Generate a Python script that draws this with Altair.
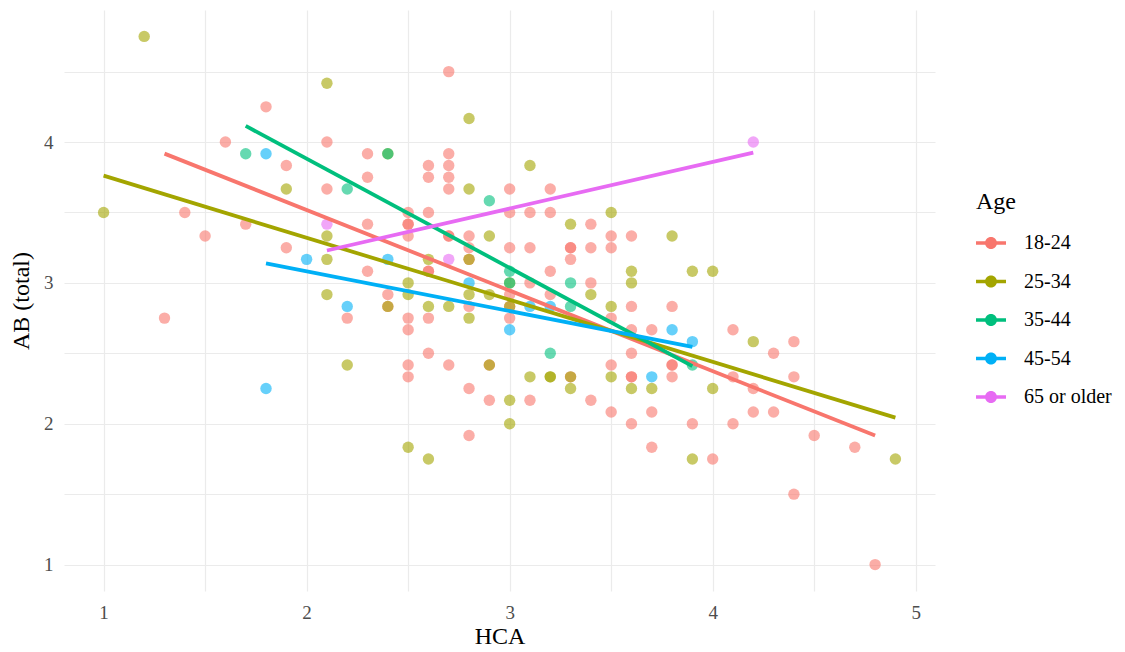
import altair as alt
import pandas as pd

# 18-24
hca_1824 = [1.3, 1.4, 1.5, 1.6, 1.7, 1.8, 1.9, 1.9, 2.1, 2.1, 2.2, 2.3, 2.3, 2.3, 2.3, 2.4, 2.4,
            2.5, 2.5, 2.5, 2.5, 2.5, 2.5, 2.5, 2.5, 2.6, 2.6, 2.6, 2.6, 2.6, 2.6, 2.6,
            2.7, 2.7, 2.7, 2.7, 2.7, 2.7, 2.7, 2.7, 2.8, 2.8, 2.8, 2.8, 2.8, 2.8, 2.9, 2.9,
            3.0, 3.0, 3.0, 3.0, 3.0, 3.0, 3.1, 3.1, 3.1, 3.1, 3.2, 3.2, 3.2, 3.2,
            3.3, 3.3, 3.3, 3.3, 3.4, 3.4, 3.4, 3.4, 3.5, 3.5, 3.5, 3.5, 3.5,
            3.6, 3.6, 3.6, 3.6, 3.6, 3.6, 3.6, 3.7, 3.7, 3.7, 3.8, 3.8, 3.8, 3.8,
            3.9, 4.0, 4.1, 4.1, 4.1, 4.2, 4.2, 4.3, 4.3, 4.4, 4.4, 4.4, 4.5, 4.7, 4.8]
ab_1824 = [2.75, 3.5, 3.333, 4.0, 3.417, 4.25, 3.833, 3.25, 4.0, 3.667, 2.75, 3.917, 3.75, 3.417, 3.083, 2.917, 2.833,
           3.5, 3.417, 3.417, 3.333, 2.75, 2.667, 2.417, 2.333, 3.833, 3.75, 3.5, 3.083, 3.083, 2.75, 2.5,
           4.5, 3.917, 3.833, 3.75, 3.667, 3.333, 3.333, 2.417, 3.333, 3.25, 3.167, 2.833, 2.25, 1.917, 2.417, 2.167,
           3.667, 3.5, 3.25, 2.917, 2.833, 2.75, 3.5, 3.25, 3.0, 2.167, 3.667, 3.5, 3.083, 2.917,
           3.25, 3.25, 3.167, 2.333, 3.417, 3.25, 3.0, 2.167, 3.333, 3.25, 2.75, 2.417, 2.083,
           3.333, 2.833, 2.667, 2.5, 2.333, 2.333, 2.0, 2.667, 2.083, 1.833, 2.833, 2.417, 2.417, 2.333,
           2.0, 1.75, 2.667, 2.333, 2.0, 2.25, 2.083, 2.5, 2.083, 2.583, 2.333, 1.5, 1.917, 1.833, 1.0]

# 25-34
hca_2534 = [1.0, 1.2, 1.9, 2.1, 2.1, 2.1, 2.1, 2.2, 2.4, 2.4, 2.5, 2.5, 2.5, 2.6, 2.6, 2.6, 2.7,
            2.8, 2.8, 2.8, 2.8, 2.8, 2.9, 2.9, 2.9, 3.0, 3.0, 3.0, 3.0, 3.1, 3.1, 3.2, 3.2,
            3.3, 3.3, 3.3, 3.4, 3.5, 3.5, 3.5, 3.6, 3.6, 3.6, 3.7, 3.8, 3.9, 3.9, 4.0, 4.0, 4.2, 4.9]
ab_2534 = [3.5, 4.75, 3.667, 4.417, 3.333, 3.167, 2.917, 2.417, 3.917, 2.833, 3.0, 2.917, 1.833, 3.167, 2.833, 1.75, 2.833,
           4.167, 3.667, 3.167, 2.917, 2.75, 3.333, 2.917, 2.417, 3.0, 2.833, 2.167, 2.0, 3.833, 2.333, 2.333, 2.333,
           3.417, 2.333, 2.25, 2.917, 3.5, 2.833, 2.333, 3.083, 3.0, 2.25, 2.25, 3.333, 3.083, 1.75, 3.083, 2.25, 2.583, 1.75]

# 35-44
hca_3544 = [1.7, 2.2, 2.4, 2.9, 3.0, 3.0, 3.2, 3.3, 3.3, 3.9]
ab_3544 = [3.917, 3.667, 3.917, 3.583, 3.083, 3.0, 2.5, 3.0, 2.833, 2.417]

# 45-54
hca_4554 = [1.8, 1.8, 2.0, 2.2, 2.4, 2.8, 3.0, 3.1, 3.2, 3.7, 3.8, 3.9]
ab_4554 = [3.917, 2.25, 3.167, 2.833, 3.167, 3.0, 2.667, 2.833, 2.833, 2.333, 2.667, 2.583]

# 65 or older
hca_65 = [2.1, 2.7, 4.2]
ab_65 = [3.417, 3.167, 4.0]

ages = ["18-24", "25-34", "35-44", "45-54", "65 or older"]
colors = ["#F8766D", "#A3A500", "#00BF7D", "#00B0F6", "#E76BF3"]

rows = []
for age, xs, ys in zip(ages, [hca_1824, hca_2534, hca_3544, hca_4554, hca_65],
                       [ab_1824, ab_2534, ab_3544, ab_4554, ab_65]):
    for x, y in zip(xs, ys):
        rows.append({"HCA": x, "AB": y, "Age": age})
df = pd.DataFrame(rows)

xgrid = [1, 1.5, 2, 2.5, 3, 3.5, 4, 4.5, 5]
ygrid = [1, 1.5, 2, 2.5, 3, 3.5, 4, 4.5]
FONT = "Liberation Serif"

xscale = alt.Scale(domain=[0.805, 5.095], nice=False, zero=False)
yscale = alt.Scale(domain=[0.8125, 4.9375], nice=False, zero=False)
cscale = alt.Scale(domain=ages, range=colors)

xaxis = alt.Axis(values=xgrid, title="HCA", labelExpr="datum.value % 1 === 0 ? format(datum.value, 'd') : ''",
                 labelPadding=12, titlePadding=2)
yaxis = alt.Axis(values=ygrid, title="AB (total)", labelExpr="datum.value % 1 === 0 ? format(datum.value, 'd') : ''",
                 labelPadding=11, titlePadding=10)

legend_path = ("M-1,-0.11L1,-0.11L1,0.11L-1,0.11Z"
               "M-0.4,0A0.4,0.4,0,1,1,0.4,0A0.4,0.4,0,1,1,-0.4,0Z")

points = alt.Chart(df).mark_point(filled=True, size=130, opacity=0.6, strokeWidth=0).encode(
    x=alt.X("HCA:Q", scale=xscale, axis=xaxis),
    y=alt.Y("AB:Q", scale=yscale, axis=yaxis),
    color=alt.Color("Age:N", scale=cscale, legend=alt.Legend(
        title="Age", orient="none", legendX=912, legendY=180,
        symbolType=legend_path, symbolSize=900, symbolOpacity=1, symbolStrokeWidth=0,
        rowPadding=13.5, labelOffset=18, labelLimit=300)),
)

lines = alt.Chart(df).transform_regression(
    "HCA", "AB", groupby=["Age"]
).mark_line(strokeWidth=3.8).encode(
    x=alt.X("HCA:Q", scale=xscale),
    y=alt.Y("AB:Q", scale=yscale),
    color=alt.Color("Age:N", scale=cscale, legend=None),
)

chart = alt.layer(points, lines).properties(
    width=871, height=581,
    autosize=alt.AutoSizeParams(type="none"),
    padding={"left": 56, "top": 2, "right": 180, "bottom": 58},
).configure_view(stroke=None).configure_axis(
    domain=False, ticks=False, grid=True, gridColor="#EBEBEB", gridWidth=1.2,
    labelFont=FONT, labelFontSize=19, labelColor="#4D4D4D",
    titleFont=FONT, titleFontSize=24, titleFontWeight="normal", titleColor="#000000",
).configure_legend(
    titleFont=FONT, titleFontSize=24, titleFontWeight="normal", titleColor="#000000",
    labelFont=FONT, labelFontSize=20, labelColor="#000000", titlePadding=14,
)

chart.save("out.html", embed_options={"renderer": "svg", "actions": False})
